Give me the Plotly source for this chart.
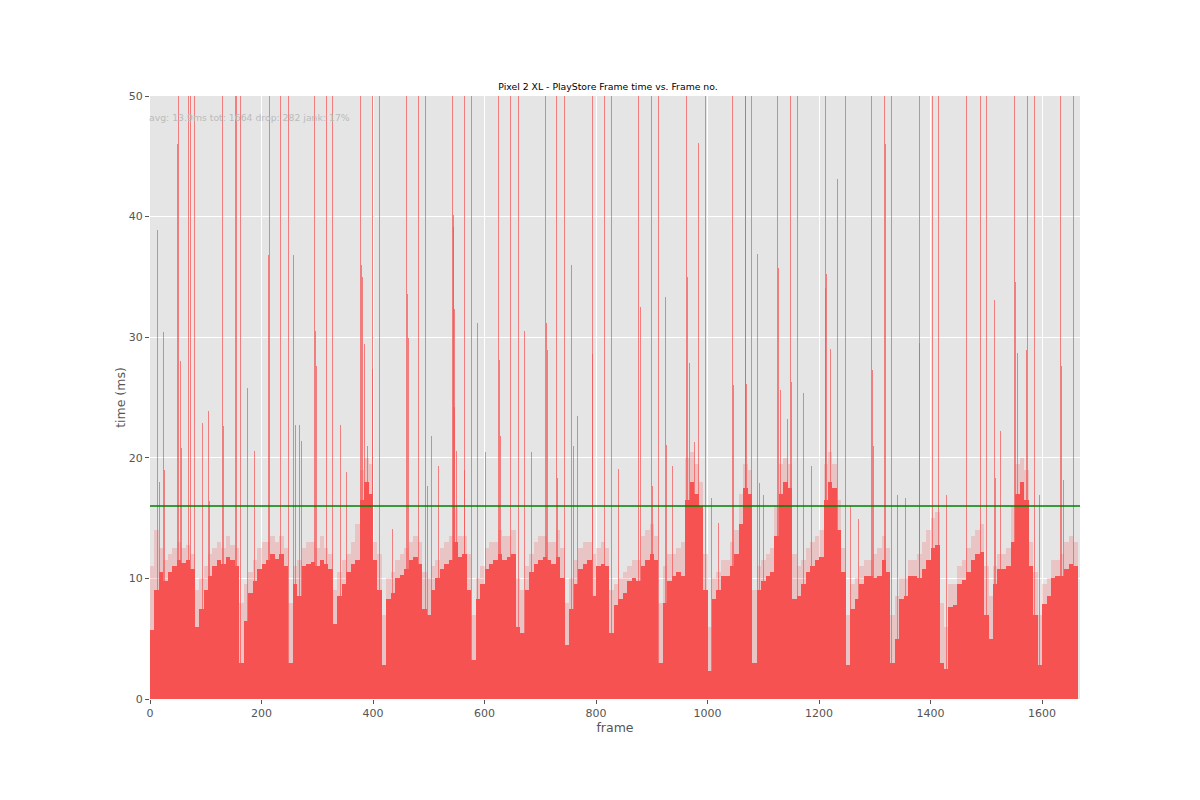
import plotly.graph_objects as go

# CONFIG
TITLE = "Pixel 2 XL - PlayStore Frame time vs. Frame no."
STATS = "avg: 13.9ms tot: 1664 drop: 282 jank: 17%"
TOTAL_FRAMES = 1664
JANK_MS = 16
BIN = 8  # profile in 8-frame steps

# typical frame time (ms) for each 8-frame block, frames 0..1663
base_ms = [
    5.7, 9.0, 10.5, 9.8, 10.5, 11.0, 11.5, 11.3, 11.5, 10.8,
    6.0, 7.5, 9.0, 10.2, 11.0, 11.5, 11.2, 11.8, 11.5, 11.0,
    3.0, 6.5, 8.8, 9.8, 10.8, 11.2, 11.5, 12.0, 11.6, 12.0,
    11.0, 3.0, 9.5, 8.5, 11.0, 11.2, 11.4, 11.0, 11.5, 11.2,
    10.8, 6.2, 8.5, 9.5, 10.5, 11.2, 11.5, 16.5, 18.0, 17.0,
    11.5, 9.0, 2.8, 8.3, 8.8, 10.0, 10.3, 10.8, 11.5, 11.8,
    11.2, 7.5, 7.0, 9.0, 10.0, 10.8, 11.2, 11.5, 13.0, 11.8,
    12.0, 9.0, 3.2, 8.3, 9.5, 10.8, 11.2, 11.5, 12.0, 11.5,
    11.8, 12.0, 6.0, 5.5, 9.0, 10.5, 11.2, 11.5, 11.8, 11.5,
    11.2, 11.8, 10.0, 4.5, 7.5, 9.5, 10.8, 11.2, 11.5, 8.5,
    11.0, 11.2, 11.0, 5.5, 7.8, 8.3, 8.8, 9.8, 10.0, 9.8,
    11.0, 11.5, 12.0, 11.5, 3.0, 8.0, 9.8, 10.2, 10.5, 10.2,
    16.5, 18.0, 17.0, 16.0, 9.0, 2.3, 8.3, 9.0, 10.2, 10.2,
    11.0, 12.0, 14.5, 17.5, 17.0, 3.0, 9.0, 9.8, 10.2, 10.5,
    13.5, 17.0, 18.0, 17.5, 8.3, 8.5, 9.5, 10.5, 11.0, 11.5,
    11.8, 16.5, 18.0, 17.5, 14.0, 10.5, 2.8, 7.5, 8.3, 9.5,
    10.2, 10.2, 10.0, 10.2, 11.5, 10.5, 3.0, 5.0, 8.3, 8.5,
    10.2, 10.2, 10.0, 10.8, 11.5, 12.5, 12.8, 3.0, 2.5, 7.6,
    7.8, 9.5, 9.9, 10.5, 11.5, 12.0, 12.2, 7.0, 5.0, 9.5,
    10.8, 10.8, 11.0, 13.0, 17.0, 18.0, 16.5, 11.0, 7.0, 2.8,
    7.9, 8.5, 10.0, 10.2, 10.2, 10.8, 11.2, 11.0,
]

# top of the jittery pale fringe above the solid part, same 8-frame blocks
fringe_ms = [
    11.0, 14.0, 12.5, 11.5, 12.0, 12.5, 13.0, 12.5, 12.8, 12.0,
    9.0, 10.0, 11.0, 12.0, 12.5, 13.0, 12.5, 13.5, 12.8, 12.5,
    8.0, 9.5, 10.5, 11.5, 12.5, 13.0, 13.0, 13.5, 13.0, 13.5,
    12.5, 8.0, 11.0, 11.5, 12.5, 13.0, 13.0, 12.5, 13.5, 12.5,
    12.0, 9.0, 10.5, 11.5, 12.0, 13.0, 14.5, 19.0, 20.0, 19.5,
    13.0, 12.0, 7.0, 10.0, 10.5, 11.5, 12.0, 12.5, 13.0, 13.5,
    13.0, 10.5, 10.0, 11.0, 11.5, 12.5, 13.0, 13.5, 16.0, 13.5,
    13.5, 12.0, 7.0, 10.0, 11.0, 12.5, 13.0, 13.0, 14.0, 13.5,
    13.5, 14.0, 10.0, 9.0, 11.0, 12.0, 13.0, 13.5, 13.5, 13.0,
    13.0, 14.0, 12.5, 8.0, 10.0, 11.5, 12.5, 13.0, 13.0, 12.0,
    12.5, 13.0, 12.5, 9.0, 9.5, 10.0, 10.5, 11.0, 11.5, 11.5,
    13.5, 14.0, 14.5, 13.5, 8.0, 11.0, 12.0, 12.0, 12.5, 13.0,
    20.0, 20.5, 19.5, 18.0, 12.0, 6.0, 10.0, 10.5, 11.5, 11.5,
    13.0, 14.0, 17.0, 19.5, 19.0, 9.0, 11.0, 11.5, 12.0, 12.5,
    16.0, 19.5, 20.0, 19.5, 12.0, 11.0, 11.5, 12.5, 13.0, 13.5,
    14.0, 19.5, 20.5, 19.5, 16.5, 12.5, 7.0, 9.5, 10.0, 11.0,
    11.5, 11.5, 12.0, 12.5, 13.5, 12.5, 7.0, 8.5, 10.0, 10.0,
    11.5, 11.5, 12.0, 13.0, 14.0, 15.0, 15.5, 8.0, 6.0, 9.5,
    9.5, 11.0, 11.5, 12.5, 13.5, 14.0, 14.5, 11.0, 8.5, 11.0,
    12.0, 12.0, 12.5, 16.0, 19.5, 20.0, 19.0, 13.0, 10.5, 7.0,
    9.5, 10.0, 11.5, 11.5, 12.0, 13.0, 13.5, 13.0,
]

# single slow frames sticking out of the profile (frame no., ms); 55 = off the top
spike_frame = [
    13, 16, 23, 25, 49, 50, 53, 55, 69, 72, 79, 93, 104, 105, 130, 131,
    152, 154, 161, 174, 186, 212, 213, 233, 247, 257, 260, 267, 270,
    295, 296, 298, 316, 327, 340, 352, 377, 378, 380, 383, 389, 398, 399,
    411, 434, 460, 461, 463, 481, 493, 497, 504, 517, 541, 543, 544, 545,
    546, 549, 563, 564, 575, 586, 600, 625, 626, 628, 646, 660, 670, 683,
    709, 710, 712, 729, 730, 743, 755, 758, 765, 792, 793, 814,
    827, 839, 876, 878, 899, 900, 912, 924, 925, 936, 961, 964, 966, 975,
    982, 996, 1006, 1019, 1044, 1045, 1067, 1068, 1069, 1078, 1089, 1092,
    1100, 1125, 1126, 1130, 1143, 1148, 1149, 1161, 1172, 1185, 1210, 1211,
    1213, 1219, 1232, 1246, 1256, 1269, 1294, 1295, 1297, 1317, 1318, 1329,
    1340, 1355, 1379, 1380, 1402, 1414, 1427, 1464, 1488, 1500, 1513, 1516,
    1524, 1550, 1551, 1555, 1571, 1573, 1585, 1595, 1633, 1634, 1637, 1656,
]
spike_ms = [
    38.9, 18.0, 30.4, 19.0, 46.0, 55, 28.0, 20.8, 55, 55, 55, 22.9, 23.9, 16.4, 55, 22.6,
    55, 55, 55, 25.8, 20.6, 36.8, 55, 55, 55, 36.8, 22.7, 22.7, 21.4,
    55, 30.5, 27.6, 55, 55, 22.7, 18.8, 55, 36.0, 35.0, 29.4, 21.0, 27.4, 55,
    55, 14.1, 55, 33.6, 29.9, 55, 55, 17.7, 21.8, 19.3, 55, 39.1, 40.1, 32.3,
    24.2, 20.6, 55, 19.0, 55, 31.2, 20.5, 55, 28.1, 21.8, 55, 55, 30.5, 20.5,
    55, 31.2, 28.9, 55, 18.3, 55, 36.0, 21.0, 23.5, 55, 28.6, 55,
    55, 19.1, 55, 32.5, 55, 17.7, 55, 33.3, 21.1, 19.3, 55, 35.0, 27.9, 21.3,
    46.1, 55, 16.7, 14.6, 55, 26.0, 55, 55, 26.1, 55, 36.9, 17.9,
    16.9, 55, 35.7, 25.6, 23.2, 55, 26.3, 55, 25.4, 19.3, 55, 34.1,
    35.2, 29.0, 43.1, 55, 16.0, 14.9, 55, 27.3, 21.0, 55, 46.0, 55,
    16.9, 16.7, 55, 29.5, 55, 55, 16.9, 55, 55, 55, 33.1, 18.3,
    22.2, 55, 34.6, 28.7, 28.9, 55, 55, 16.9, 55, 27.6, 18.2, 55,
]

RED = "#F65252"
FRINGE = "rgba(246, 82, 82, 0.22)"
SPIKE = "rgba(246, 82, 82, 0.7)"
GREY = "#555555"

base_frame = [i * BIN for i in range(len(base_ms))]

fig = go.Figure()

fig.add_trace(go.Bar(
    x=base_frame, y=fringe_ms, width=BIN, offset=0,
    marker=dict(color=FRINGE, line=dict(width=0)),
    hoverinfo="skip", showlegend=False,
))

fig.add_trace(go.Bar(
    x=base_frame, y=base_ms, width=BIN, offset=0,
    marker=dict(color=RED, line=dict(width=0)),
    hoverinfo="skip", showlegend=False,
))

# one frame is only ~0.56px wide here, so spikes are drawn ~1px wide
fig.add_trace(go.Bar(
    x=spike_frame, y=spike_ms, width=1.8, offset=0,
    marker=dict(color=SPIKE, line=dict(width=0)),
    hoverinfo="skip", showlegend=False,
))

# jank threshold
fig.add_hline(y=JANK_MS, line=dict(color="green", width=1.5))

fig.add_annotation(
    x=0, y=1.0, xref="paper", yref="paper", yshift=-14, xshift=-3,
    xanchor="left", yanchor="top", showarrow=False,
    text=STATS, font=dict(size=9.3, color="#BBBBBB"),
)

# page has an 8px body margin, so margins are set to land the plot area where the original is
fig.update_layout(
    width=1200, height=800,
    margin=dict(l=142, r=128, t=88, b=109),
    paper_bgcolor="white", plot_bgcolor="#E5E5E5",
    bargap=0, barmode="overlay",
    font=dict(family="DejaVu Sans", color=GREY, size=11),
    title=dict(text=TITLE, x=0.5, xanchor="center", yref="container", y=0.901, yanchor="middle",
               font=dict(size=9.3, color="black")),
)

fig.update_xaxes(
    range=[0, 1668], tickvals=[0, 200, 400, 600, 800, 1000, 1200, 1400, 1600],
    showgrid=True, gridcolor="white", gridwidth=1, zeroline=False,
    ticks="outside", ticklen=4, tickcolor=GREY,
    title=dict(text="frame", font=dict(size=12.5, color=GREY), standoff=0),
)
fig.update_yaxes(
    range=[0, 50], tickvals=[0, 10, 20, 30, 40, 50],
    showgrid=True, gridcolor="white", gridwidth=1, zeroline=False,
    ticks="outside", ticklen=4, tickcolor=GREY,
    title=dict(text="time (ms)", font=dict(size=12.5, color=GREY), standoff=0),
)

fig.write_html("out.html")
